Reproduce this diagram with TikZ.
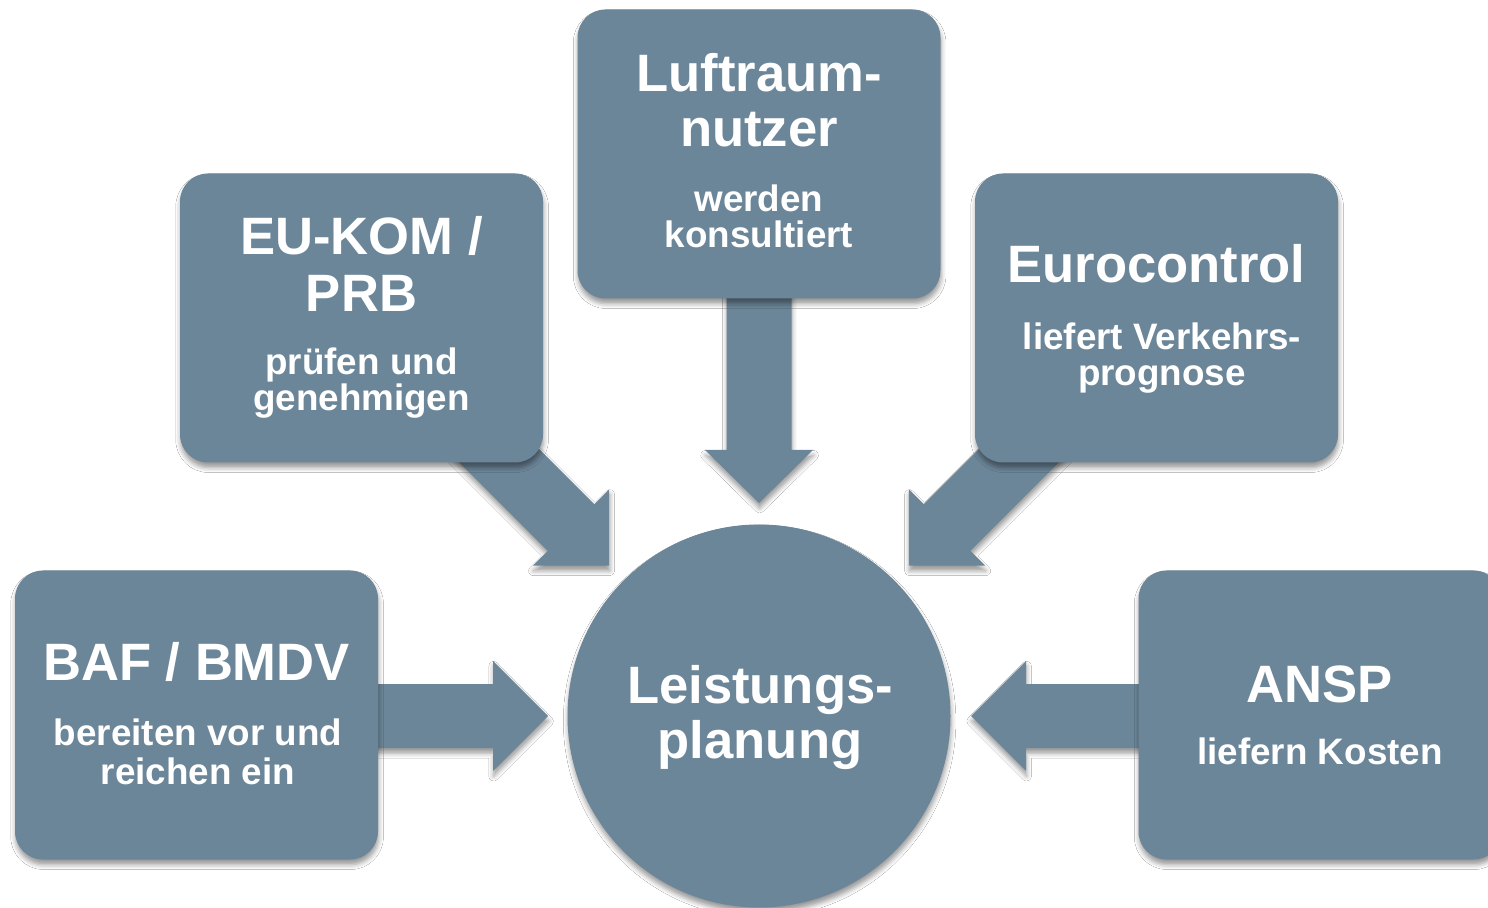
\documentclass[tikz,border=0pt]{standalone}
\usepackage{fontspec}
\setmainfont{Liberation Sans}
\usetikzlibrary{shadows.blur}
\definecolor{slate}{RGB}{108,134,153}
\tikzset{
  softshadow/.style={blur shadow={shadow xshift=0.3pt, shadow yshift=-2.6pt, shadow blur radius=2.4pt, shadow opacity=40}},
  boxstyle/.style={rectangle, rounded corners=14pt, minimum width=181.5pt, minimum height=144.5pt, fill=slate, draw=none, softshadow},
  circstyle/.style={circle, minimum size=191.5pt, inner sep=0pt, fill=slate, draw=none, softshadow},
  arrowstyle/.style={fill=slate, draw=none, softshadow},
  ttl/.style={font=\fontsize{26.3pt}{30pt}\selectfont\bfseries, text=white, anchor=base, inner sep=0pt},
  subtxt/.style={font=\fontsize{18.4pt}{22pt}\selectfont\bfseries, text=white, anchor=base, inner sep=0pt}
}
\begin{document}
\begin{tikzpicture}[x=0.5pt,y=-0.5pt]
\fill[white] (0,0) rectangle (1488,908);
\useasboundingbox (0,0) rectangle (1488,908);

% arrow tips
\coordinate (tipT) at (759,503);
\coordinate (tipL) at (548,716);
\coordinate (tipR) at (971,716);
\coordinate (tipDL) at (609.2,565.7);
\coordinate (tipDR) at (908.8,565.7);

% block arrows (under the boxes)
\fill[arrowstyle] (tipT) -- ++(54,-53) -- ++(-21.5,0) -- ++(0,-170) -- ++(-65,0) -- ++(0,170) -- ++(-21.5,0) -- cycle;
\fill[arrowstyle] (tipL) -- ++(-55,-55) -- ++(0,23) -- ++(-150,0) -- ++(0,64) -- ++(150,0) -- ++(0,23) -- cycle;
\fill[arrowstyle] (tipR) -- ++(55,-55) -- ++(0,23) -- ++(150,0) -- ++(0,64) -- ++(-150,0) -- ++(0,23) -- cycle;
\fill[arrowstyle] (tipDL) -- ++(0,-76.4) -- ++(-14.9,14.9) -- ++(-101,-101) -- ++(-46.6,46.6) -- ++(101,101) -- ++(-14.9,14.9) -- cycle;
\fill[arrowstyle] (tipDR) -- ++(0,-76.4) -- ++(14.9,14.9) -- ++(101,-101) -- ++(46.6,46.6) -- ++(-101,101) -- ++(14.9,14.9) -- cycle;

% boxes
\node[boxstyle] (lu) at (759,154) {};
\node[boxstyle] (eu) at (361.5,318) {};
\node[boxstyle] (euro) at (1156.5,318) {};
\node[boxstyle] (baf) at (196.5,715) {};
\node[boxstyle] (ansp) at (1320,715) {};
\node[circstyle] (lp) at (759,716) {};

% texts
\node[ttl] (lu1) at (759,92) {Luftraum-};
\node[ttl] (lu2) at (759,147) {nutzer};
\node[subtxt] (lu3) at (759,212) {werden};
\node[subtxt] (lu4) at (759,248) {konsultiert};

\node[ttl] (eu1) at (361.5,255) {EU-KOM /};
\node[ttl] (eu2) at (361.5,312) {PRB};
\node[subtxt] (eu3) at (361.5,375) {prüfen und};
\node[subtxt] (eu4) at (361.5,411) {genehmigen};

\node[ttl] (euro1) at (1156.5,283) {Eurocontrol};
\node[subtxt] (euro2) at (1162,350) {liefert Verkehrs-};
\node[subtxt] (euro3) at (1162,386) {prognose};

\node[ttl] (baf1) at (196.5,680) {BAF / BMDV};
\node[subtxt] (baf2) at (198,745) {bereiten vor und};
\node[subtxt] (baf3) at (198,784) {reichen ein};

\node[ttl] (ansp1) at (1320,702) {ANSP};
\node[subtxt] (ansp2) at (1320,764) {liefern Kosten};

\node[ttl] (lp1) at (760,703) {Leistungs-};
\node[ttl] (lp2) at (760,758) {planung};
\end{tikzpicture}
\end{document}
